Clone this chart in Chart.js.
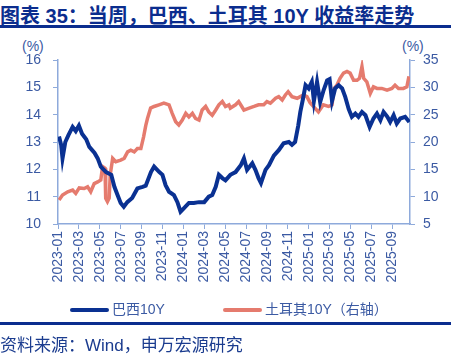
<!DOCTYPE html>
<html>
<head>
<meta charset="utf-8">
<script src="https://cdn.jsdelivr.net/npm/chart.js@4/dist/chart.umd.min.js"></script>
<style>
body { margin: 0; width: 451px; height: 360px; position: relative; background: #fff; overflow: hidden;
  font-family: "Liberation Sans", "Noto Sans CJK SC", sans-serif; }
#title { position: absolute; left: 0; top: 0; font-size: 20px; font-weight: bold; color: #0b2d8e; white-space: nowrap; }
.rule { position: absolute; left: 0; width: 451px; height: 2.5px; background: #0b2d8e; }
.unit { position: absolute; top: 38px; font-size: 14px; color: #3b5aa3; }
#legend { position: absolute; top: 298px; left: 70px; font-size: 14px; color: #3b5aa3; white-space: nowrap; }
#legend span.sw { display: inline-block; width: 39px; height: 4px; vertical-align: middle; margin-right: 3px; border-radius: 2px; }
#source { position: absolute; left: 0; top: 331px; font-size: 17px; color: #1b3c8f; white-space: nowrap; }
canvas { position: absolute; left: 0; top: 0; }
</style>
</head>
<body>
<div id="title">图表 35：当周，巴西、土耳其 10Y 收益率走势</div>
<div class="rule" style="top:25px"></div>
<div class="unit" style="left:22px">(%)</div>
<div class="unit" style="left:402px">(%)</div>
<canvas id="chart" width="451" height="360"></canvas>
<div id="legend"><span class="sw" style="background:#0a3192"></span>巴西10Y<span style="display:inline-block;width:58px"></span><span class="sw" style="background:#e57b6e"></span>土耳其10Y（右轴）</div>
<div class="rule" style="top:322px"></div>
<div id="source">资料来源：Wind，申万宏源研究</div>
<script>
const brDates = ['2023-01-04','2023-01-10','2023-01-14','2023-01-22','2023-02-01','2023-02-13','2023-02-22','2023-03-01','2023-03-10','2023-03-22',
  '2023-04-01','2023-04-16','2023-04-25','2023-05-04','2023-05-19','2023-06-04','2023-06-13','2023-06-22','2023-07-01','2023-07-10',
  '2023-07-20','2023-08-04','2023-08-19','2023-09-04','2023-09-13','2023-09-28','2023-10-07','2023-10-22','2023-11-01','2023-11-10',
  '2023-11-20','2023-12-04','2023-12-14','2023-12-23','2024-01-03','2024-01-17','2024-02-01','2024-02-16','2024-03-01','2024-03-14',
  '2024-03-24','2024-04-04','2024-04-13','2024-04-23','2024-05-02','2024-05-16','2024-06-01','2024-06-16','2024-06-25','2024-07-04',
  '2024-07-19','2024-07-28','2024-08-07','2024-08-14','2024-08-27','2024-09-07','2024-09-21','2024-10-05','2024-10-19','2024-11-04',
  '2024-11-13','2024-11-22','2024-12-01','2024-12-07','2024-12-15','2024-12-22','2025-01-01','2025-01-10','2025-01-16','2025-01-25',
  '2025-02-04','2025-02-14','2025-02-24','2025-03-01','2025-03-08','2025-03-17','2025-03-27','2025-04-07','2025-04-16','2025-04-26',
  '2025-05-05','2025-05-15','2025-05-24','2025-06-04','2025-06-14','2025-06-26','2025-07-07','2025-07-17','2025-07-27','2025-08-06',
  '2025-08-17','2025-08-25','2025-09-05','2025-09-14','2025-09-24','2025-10-08','2025-10-20'];
const brazil10y = [13.2,12.9,12.4,13.0,13.25,13.55,13.4,13.6,13.3,13.1,
  12.82,12.6,12.4,12.1,11.9,11.8,11.36,11.06,10.77,10.63,
  10.8,10.95,11.3,11.36,11.4,11.9,12.1,11.9,11.8,11.42,
  11.18,11.06,10.8,10.45,10.58,10.77,10.77,10.8,10.8,11.0,
  11.06,11.36,11.8,11.68,11.6,11.8,11.9,12.15,12.4,11.98,
  12.22,11.98,11.68,11.5,11.98,12.15,12.5,12.7,12.95,13.0,
  12.9,13.0,13.6,14.1,14.6,15.08,14.96,15.2,14.5,15.2,
  14.46,14.9,15.25,15.3,14.5,14.96,15.08,14.96,14.65,14.2,
  13.92,14.04,13.92,14.1,13.98,13.55,13.86,14.04,13.8,14.1,
  13.92,13.73,13.98,13.68,13.86,13.92,13.73];

const trDates = ['2023-01-04','2023-01-14','2023-01-29','2023-02-13','2023-02-22','2023-03-02','2023-03-16','2023-03-26','2023-04-05','2023-04-15',
  '2023-04-25','2023-05-04','2023-05-09','2023-05-16','2023-05-18','2023-05-23','2023-05-28','2023-06-01','2023-06-08','2023-06-17',
  '2023-07-01','2023-07-11','2023-07-21','2023-07-30','2023-08-10','2023-08-19','2023-08-29','2023-09-07','2023-09-13','2023-09-18',
  '2023-09-27','2023-10-07','2023-10-21','2023-11-05','2023-11-20','2023-11-29','2023-12-09','2023-12-18','2023-12-28','2024-01-08',
  '2024-01-17','2024-01-27','2024-02-06','2024-02-16','2024-02-25','2024-03-05','2024-03-14','2024-03-24','2024-04-04','2024-04-13',
  '2024-04-23','2024-05-02','2024-05-12','2024-05-16','2024-06-01','2024-06-10','2024-06-25','2024-07-10','2024-07-24','2024-08-07',
  '2024-08-22','2024-09-01','2024-09-11','2024-09-26','2024-10-05','2024-10-15','2024-10-24','2024-11-02','2024-11-13','2024-11-28',
  '2024-12-07','2024-12-16','2024-12-26','2025-01-05','2025-01-19','2025-01-29','2025-02-13','2025-02-28','2025-03-08','2025-03-14',
  '2025-03-22','2025-04-01','2025-04-11','2025-04-21','2025-04-30','2025-05-10','2025-05-20','2025-05-27','2025-06-04','2025-06-09',
  '2025-06-18','2025-06-28','2025-07-07','2025-07-17','2025-08-01','2025-08-16','2025-08-30','2025-09-09','2025-09-19','2025-10-03',
  '2025-10-13','2025-10-19'];
const turkey10y = [9.4,10.3,10.9,11.2,10.6,11.6,11.5,11.8,10.9,12.4,
  12.7,13.05,15.5,15.2,9.7,9.1,9.75,14.0,17.0,16.4,
  16.7,17.0,18.2,18.5,18.2,18.8,18.8,21.0,23.0,24.3,
  26.2,26.5,26.8,27.1,26.8,25.25,23.7,23.1,24.0,25.25,
  24.6,25.25,24.3,24.0,25.85,26.5,25.5,24.9,25.85,26.8,
  27.4,26.5,26.8,26.2,26.8,27.4,25.85,26.2,26.5,26.8,
  26.8,27.4,27.1,28.0,28.3,27.7,28.6,29.2,28.3,28.0,
  28.3,28.6,28.3,27.2,26.2,25.5,26.8,26.5,26.8,29.8,
  30.4,31.65,32.6,32.9,32.6,31.3,31.3,31.65,33.8,31.65,
  31.0,28.9,30.1,29.8,29.8,29.5,29.8,30.4,29.8,29.8,
  30.1,32.0];

const xMaxDate = '2025-10-22';
const leftTicks = [10, 11, 12, 13, 14, 15, 16];
const rightTicks = [5, 10, 15, 20, 25, 30, 35];

// months since 2023-01
function toM(d) {
  const p = d.split('-').map(Number);
  return (p[0] - 2023) * 12 + (p[1] - 1) + (p[2] - 1) / 30;
}
function fromM(m) {
  const y = 2023 + Math.floor(m / 12);
  const mo = Math.round(m % 12) + 1;
  return y + '-' + String(mo).padStart(2, '0');
}

const axisColor = '#8eaadb';
const tickColor = '#3b5aa3';
const font = { family: '"Liberation Sans", "Noto Sans CJK SC", sans-serif', size: 14 };

new Chart(document.getElementById('chart'), {
  type: 'line',
  data: {
    datasets: [{
      label: '巴西10Y',
      data: brDates.map((d, i) => ({ x: toM(d), y: brazil10y[i] })),
      borderColor: '#0a3192',
      borderWidth: 4,
      pointRadius: 0,
      tension: 0,
      yAxisID: 'y'
    }, {
      label: '土耳其10Y（右轴）',
      data: trDates.map((d, i) => ({ x: toM(d), y: turkey10y[i] })),
      borderColor: '#e57b6e',
      borderWidth: 3.5,
      pointRadius: 0,
      tension: 0,
      yAxisID: 'y1'
    }]
  },
  options: {
    responsive: false,
    animation: false,
    layout: { padding: { top: 60, bottom: 66, left: 0, right: 0 } },
    plugins: { legend: { display: false }, tooltip: { enabled: false } },
    scales: {
      x: {
        type: 'linear',
        min: 0,
        max: toM(xMaxDate),
        grid: { display: true, drawOnChartArea: false, color: axisColor, tickLength: 5 },
        border: { color: axisColor, width: 1.5 },
        afterFit: s => { s.height = 70; },
        ticks: {
          stepSize: 2,
          includeBounds: false,
          autoSkip: false,
          minRotation: 90,
          maxRotation: 90,
          color: tickColor,
          font: font,
          padding: 2,
          callback: v => fromM(v)
        }
      },
      y: {
        position: 'left',
        min: 10,
        max: 16,
        afterFit: s => { s.width = 58; },
        afterBuildTicks: s => { s.ticks = leftTicks.map(v => ({ value: v })); },
        grid: { drawOnChartArea: false, color: axisColor, tickLength: 5 },
        border: { color: axisColor, width: 1.5 },
        ticks: { color: tickColor, font: font, padding: 12 }
      },
      y1: {
        position: 'right',
        min: 5,
        max: 35,
        afterFit: s => { s.width = 41; },
        afterBuildTicks: s => { s.ticks = rightTicks.map(v => ({ value: v })); },
        grid: { drawOnChartArea: false, color: axisColor, tickLength: 5 },
        border: { color: axisColor, width: 1.5 },
        ticks: { color: tickColor, font: font, padding: 8 }
      }
    }
  }
});
</script>
</body>
</html>
